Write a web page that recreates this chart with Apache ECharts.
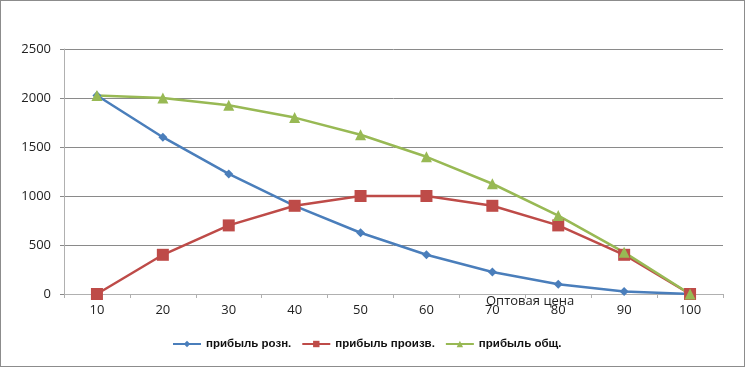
<!DOCTYPE html>
<html><head><meta charset="utf-8">
<script src="https://cdn.jsdelivr.net/npm/echarts@6/dist/echarts.min.js"></script>
<style>html,body{margin:0;padding:0;background:#fff}#c{width:745px;height:367px;box-sizing:border-box;border:1px solid #8c8c8c}</style>
</head><body><div id="c"></div>
<script>
const categories = ['10','20','30','40','50','60','70','80','90','100'];
const retail = [2025,1600,1225,900,625,400,225,100,25,0];
const producer = [0,400,700,900,1000,1000,900,700,400,0];
const total = [2025,2000,1925,1800,1625,1400,1125,800,425,0];
const names = ['прибыль розн.','прибыль произв.','прибыль общ.'];
const chart = echarts.init(document.getElementById('c'));
chart.setOption({
  animation:false,
  grid:{left:63,right:21,top:48,bottom:72},
  legend:{bottom:11,left:166,itemGap:10,itemWidth:28,itemHeight:8,
    textStyle:{fontFamily:'Liberation Sans',fontSize:11.5,fontWeight:'bold',color:'#111'},
    data:names},
  xAxis:{type:'category',data:categories,boundaryGap:true,
    axisLine:{lineStyle:{color:'#b0b0b0'}},
    axisTick:{show:true,length:4,lineStyle:{color:'#b0b0b0'}},
    axisLabel:{fontFamily:'Open Sans',fontSize:13,color:'#222',margin:10}},
  yAxis:{type:'value',min:0,max:2500,interval:500,
    axisLine:{show:true,lineStyle:{color:'#b0b0b0'}},
    axisTick:{show:true,length:4,lineStyle:{color:'#888'}},
    splitLine:{lineStyle:{color:'#8a8a8a'}},
    axisLabel:{fontFamily:'Open Sans',fontSize:13,color:'#222',margin:13,formatter:v=>String(v)}},
  graphic:[{type:'text',left:485,top:294,style:{text:'Оптовая цена',font:'13px "Open Sans"',fill:'#222'}}],
  series:[
    {name:names[0],type:'line',data:retail,symbol:'diamond',symbolSize:9,
     lineStyle:{color:'#4a7ebb',width:2.5},itemStyle:{color:'#4a7ebb'}},
    {name:names[1],type:'line',data:producer,symbol:'rect',symbolSize:12,
     lineStyle:{color:'#be4b48',width:2.5},itemStyle:{color:'#be4b48'}},
    {name:names[2],type:'line',data:total,symbol:'triangle',symbolSize:11,
     lineStyle:{color:'#98b954',width:2.5},itemStyle:{color:'#98b954'}}
  ]
});
</script></body></html>
